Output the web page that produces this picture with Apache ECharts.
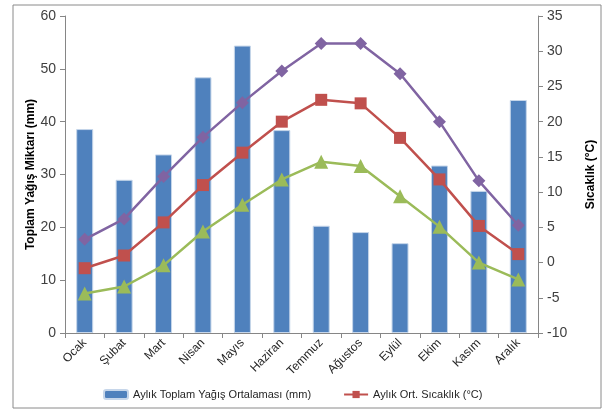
<!DOCTYPE html>
<html><head><meta charset="utf-8">
<script src="https://cdn.jsdelivr.net/npm/echarts@6/dist/echarts.min.js"></script>
<style>html,body{margin:0;padding:0;background:#fff}#c{width:605px;height:410px}</style>
</head><body><div id="c"></div>
<script>
const months = ['Ocak','Şubat','Mart','Nisan','Mayıs','Haziran','Temmuz','Ağustos','Eylül','Ekim','Kasım','Aralık'];
const rain = [38.6, 29.0, 33.8, 48.4, 54.4, 38.4, 20.3, 19.1, 17.0, 31.7, 26.9, 44.1];
const tMax = [3.3, 6.2, 12.2, 17.8, 22.7, 27.2, 31.1, 31.1, 26.8, 20.0, 11.6, 5.3];
const tMean = [-0.8, 1.0, 5.7, 11.0, 15.6, 20.0, 23.1, 22.6, 17.7, 11.8, 5.2, 1.2];
const tMin = [-4.4, -3.4, -0.4, 4.4, 8.2, 11.8, 14.3, 13.7, 9.4, 5.1, 0.0, -2.4];
const rainTicks = {min: 0, max: 60, interval: 10};
const tempTicks = {min: -10, max: 35, interval: 5};
const rainName = 'Aylık Toplam Yağış Ortalaması (mm)';
const tempName = 'Aylık Ort. Sıcaklık (°C)';

const FONT = "'Liberation Sans',sans-serif";
const chart = echarts.init(document.getElementById('c'), null, {renderer: 'canvas'});
const axisLine = {show: true, lineStyle: {color: '#868686', width: 1}};
const lineSeries = (name, data, color, symbol, size) => ({
  name, type: 'line', yAxisIndex: 1, data,
  symbol, symbolSize: size,
  lineStyle: {color, width: 2.5},
  itemStyle: {color},
  z: 3
});
chart.setOption({
  animation: false,
  textStyle: {fontFamily: FONT},
  graphic: [{type: 'rect', shape: {x: 13, y: 5, width: 588, height: 403}, style: {fill: null, stroke: '#8a8a8a', lineWidth: 1}, z: -1}],
  grid: {left: 65, right: 57, top: 16, bottom: 77},
  legend: {
    data: [rainName, tempName],
    left: 98, top: 384, itemWidth: 24, itemHeight: 9, itemGap: 32,
    textStyle: {fontFamily: FONT, fontSize: 11, color: '#262626'}
  },
  xAxis: {
    type: 'category', data: months,
    axisLine, axisTick: {show: true, alignWithLabel: false, length: 5, lineStyle: {color: '#868686'}},
    axisLabel: {rotate: 45, fontSize: 12, color: '#262626', fontFamily: FONT, margin: 8, interval: 0}
  },
  yAxis: [{
    type: 'value', ...rainTicks,
    name: 'Toplam Yağış Miktarı (mm)', nameLocation: 'middle', nameRotate: 90, nameGap: 28,
    nameMoveOverlap: false,
    nameTextStyle: {fontWeight: 'bold', fontSize: 12, color: '#000', fontFamily: FONT},
    axisLine, axisTick: {show: true, length: 5, lineStyle: {color: '#868686'}},
    splitLine: {show: false},
    axisLabel: {fontSize: 14, color: '#404040', fontFamily: FONT, margin: 9}
  }, {
    type: 'value', ...tempTicks, position: 'right',
    name: 'Sıcaklık (°C)', nameLocation: 'middle', nameRotate: 90, nameGap: 47,
    nameMoveOverlap: false,
    nameTextStyle: {fontWeight: 'bold', fontSize: 12, color: '#000', fontFamily: FONT},
    axisLine, axisTick: {show: true, length: 5, lineStyle: {color: '#868686'}},
    splitLine: {show: false},
    axisLabel: {fontSize: 14, color: '#404040', fontFamily: FONT, margin: 9}
  }],
  series: [
    {name: rainName, type: 'bar', data: rain, barWidth: 17,
     itemStyle: {color: '#4F81BD', borderColor: '#c6d6ea', borderWidth: 1}, z: 2},
    lineSeries('Maks', tMax, '#8064A2', 'diamond', 13),
    lineSeries(tempName, tMean, '#C0504D', 'rect', 12),
    lineSeries('Min', tMin, '#9BBB59', 'triangle', 14)
  ]
});
</script></body></html>
